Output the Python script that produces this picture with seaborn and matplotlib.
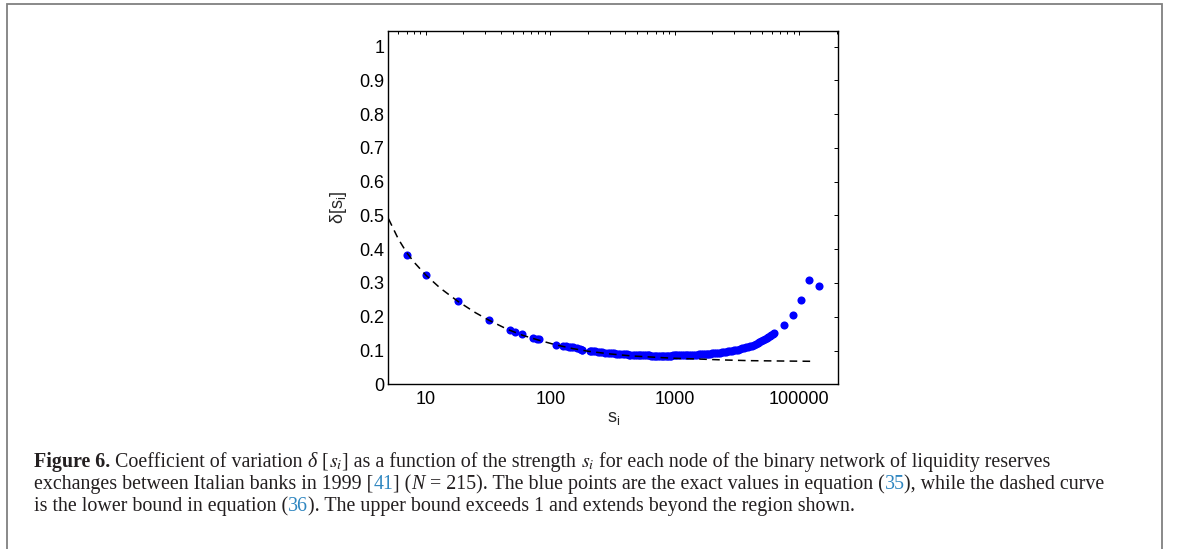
import numpy as np
import pandas as pd
import matplotlib
matplotlib.use("Agg")
import matplotlib.pyplot as plt
import seaborn as sns
from matplotlib.patches import Rectangle
from matplotlib.ticker import LogLocator, NullFormatter

# Node strengths s_i and the exact coefficient of variation delta[s_i]
strength = [7, 10, 18, 32, 47, 52, 59, 72, 78, 81,
            110, 126, 133, 140, 146, 152, 165, 172, 178, 181,
            207, 214, 222, 230, 241, 250, 262, 275, 288, 300,
            312, 325, 338, 352, 366, 380, 395, 410, 425, 440,
            458, 475, 493, 512, 530, 548, 567, 585, 604, 625,
            646, 668, 690, 712, 735, 758, 782, 806, 832, 858,
            884, 912, 940, 970, 1000, 1030, 1065, 1100, 1140, 1180,
            1220, 1265, 1310, 1360, 1410, 1460, 1510, 1565, 1620, 1680,
            1740, 1800, 1860, 1930, 2000, 2070, 2150, 2230, 2310, 2400,
            2490, 2580, 2680, 2780, 2890, 3000, 3110, 3230, 3350, 3480,
            3610, 3740, 3880, 4020, 4170, 4320, 4470, 4630, 4790, 4950,
            5120, 5290, 5460, 5630, 5800, 5980, 6150, 6300,
            7550, 8870, 10330, 12050, 14360]
delta = [0.384, 0.323, 0.246, 0.190, 0.160, 0.154, 0.148, 0.136, 0.134, 0.133,
         0.117, 0.114, 0.113, 0.111, 0.110, 0.109, 0.106, 0.104, 0.103, 0.102,
         0.100, 0.099, 0.099, 0.098, 0.097, 0.096, 0.095, 0.094, 0.094, 0.093,
         0.092, 0.092, 0.091, 0.091, 0.090, 0.090, 0.089, 0.089, 0.088, 0.088,
         0.088, 0.087, 0.087, 0.087, 0.087, 0.086, 0.086, 0.086, 0.086, 0.086,
         0.085, 0.085, 0.085, 0.085, 0.085, 0.085, 0.085, 0.085, 0.085, 0.085,
         0.085, 0.085, 0.085, 0.086, 0.086, 0.086, 0.086, 0.086, 0.086, 0.087,
         0.087, 0.087, 0.087, 0.088, 0.088, 0.088, 0.088, 0.089, 0.089, 0.089,
         0.090, 0.090, 0.091, 0.091, 0.092, 0.092, 0.093, 0.094, 0.094, 0.095,
         0.096, 0.097, 0.098, 0.099, 0.100, 0.101, 0.102, 0.103, 0.104, 0.106,
         0.107, 0.109, 0.110, 0.112, 0.114, 0.116, 0.118, 0.121, 0.124, 0.127,
         0.130, 0.133, 0.136, 0.139, 0.142, 0.145, 0.148, 0.151,
         0.175, 0.205, 0.249, 0.310, 0.292]

# Lower bound curve
bound_s = [5, 6, 7, 8, 10, 13, 18, 25, 32, 45, 60, 80, 110, 150, 200,
           300, 450, 700, 1000, 1500, 2500, 4000, 7000, 13200]
bound_delta = [0.490, 0.430, 0.390, 0.362, 0.323, 0.285, 0.246, 0.212, 0.190,
               0.163, 0.145, 0.131, 0.117, 0.106, 0.098, 0.090, 0.084, 0.080,
               0.077, 0.075, 0.072, 0.070, 0.069, 0.068]

x_ticks = [10, 100, 1000, 10000]
x_tick_labels = ["10", "100", "1000", "100000"]
y_ticks = [0, 0.1, 0.2, 0.3, 0.4, 0.5, 0.6, 0.7, 0.8, 0.9, 1]
y_tick_labels = ["0", "0.1", "0.2", "0.3", "0.4", "0.5", "0.6", "0.7", "0.8", "0.9", "1"]

sns.set_style("white")
plt.rcParams.update({
    "font.family": ["Liberation Sans", "DejaVu Sans"],
    "mathtext.fontset": "custom",
    "mathtext.rm": "Liberation Sans",
    "mathtext.it": "Liberation Sans:italic",
    "lines.scale_dashes": False,
})

W, H = 1179, 549
fig = plt.figure(figsize=(W / 100, H / 100), dpi=100)
fig.patch.set_facecolor("white")

left, right, top, bottom = 388.5, 838.0, 31.0, 384.3
ax = fig.add_axes([left / W, 1 - bottom / H, (right - left) / W, (bottom - top) / H])
ax.set_xscale("log")

pts = pd.DataFrame({"s": strength, "delta": delta})
sns.scatterplot(data=pts, x="s", y="delta", ax=ax, color="#0000ff", s=34,
                edgecolor="#0000ff", linewidth=0, zorder=2, legend=False)
bnd = pd.DataFrame({"s": bound_s, "delta": bound_delta})
sns.lineplot(data=bnd, x="s", y="delta", ax=ax, color="black", linewidth=1.1,
             linestyle=(0, (5.5, 3.8)), zorder=3, legend=False)

ax.set_xlim(5, 2.05e4)
ax.set_ylim(0, 1.046)
ax.set_xticks(x_ticks)
ax.set_xticklabels(x_tick_labels)
ax.xaxis.set_minor_locator(LogLocator(base=10, subs=np.arange(2, 10), numticks=20))
ax.xaxis.set_minor_formatter(NullFormatter())
ax.set_yticks(y_ticks)
ax.set_yticklabels(y_tick_labels)

ax.tick_params(which="both", direction="in", top=True, right=True,
               colors="black", labelsize=13, width=0.7)
ax.tick_params(which="major", length=3.2)
ax.tick_params(which="minor", length=2.0)
ax.tick_params(axis="x", which="major", pad=5)
ax.tick_params(axis="y", which="major", pad=3)
for sp in ax.spines.values():
    sp.set_visible(True)
    sp.set_color("black")
    sp.set_linewidth(1.0)

ax.set_xlabel(r"$\mathrm{s_i}$", fontsize=13, labelpad=1)
ax.set_ylabel(r"$\mathrm{δ[s_i]}$", fontsize=13, labelpad=7)

# Frame around the figure panel
fig.add_artist(Rectangle((6.5 / W, -0.05), (1162 - 6.5) / W, 1.05 - 4 / H,
                         transform=fig.transFigure, fill=False,
                         edgecolor="#808080", linewidth=1.3))

# Caption, drawn piece by piece so fonts and colours can change mid-line
renderer = fig.canvas.get_renderer()
serif = ["Liberation Serif", "DejaVu Serif"]
cap_size = 14.4
link = "#2f86c0"
ink = "#231f20"
REG = dict(family=serif, fontsize=cap_size, color=ink)
BOLD = dict(family=serif, fontsize=cap_size, color=ink, weight="bold")
ITAL = dict(family=serif, fontsize=cap_size, color=ink, style="italic")
MATH = dict(family=serif, fontsize=cap_size, color=ink, math_fontfamily="stix")
BLUE = dict(family=serif, fontsize=cap_size, color=link)


def width_of(text, kw):
    a = fig.text(0, 0, "|" + text + "|", **kw)
    b = fig.text(0, 0, "||", **kw)
    w = a.get_window_extent(renderer).width - b.get_window_extent(renderer).width
    a.remove()
    b.remove()
    return w


def draw_line(x_px, y_px, pieces):
    x = x_px
    for text, kw in pieces:
        fig.text(x / W, 1 - y_px / H, text, ha="left", va="baseline", **kw)
        x += width_of(text, kw)


caption = [
    [("Figure 6.", BOLD), (" Coefficient of variation ", REG), ("δ", ITAL),
     (" [", REG), (r"$s_i$", MATH), ("] as a function of the strength ", REG),
     (r"$s_i$", MATH), (" for each node of the binary network of liquidity reserves", REG)],
    [("exchanges between Italian banks in 1999 [", REG), ("41", BLUE), ("] (", REG),
     ("N", ITAL), (" = 215). The blue points are the exact values in equation (", REG),
     ("35", BLUE), ("), while the dashed curve", REG)],
    [("is the lower bound in equation (", REG), ("36", BLUE),
     ("). The upper bound exceeds 1 and extends beyond the region shown.", REG)],
]
for i, pieces in enumerate(caption):
    draw_line(34, 467 + 22 * i, pieces)

fig.savefig("out.png", dpi=100, facecolor="white")
